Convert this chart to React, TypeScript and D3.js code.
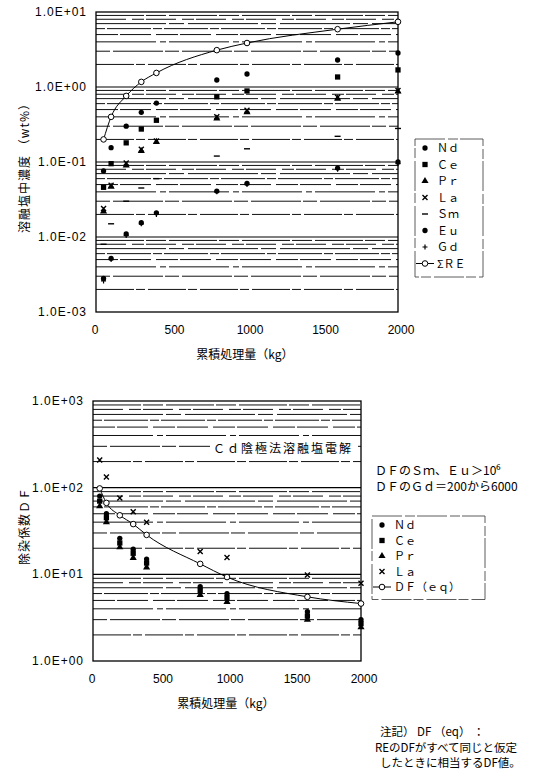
import React, { useEffect, useRef } from 'react'
import * as d3 from 'd3'

// 累積処理量 (kg)
const amounts = [50, 100, 200, 300, 400, 800, 1000, 1600, 2000]
const xTicks = [0, 500, 1000, 1500, 2000]

// 溶融塩中濃度 (wt%)
const ndConc = [0.076, 0.155, 0.30, 0.46, 0.61, 1.24, 1.49, 2.29, 2.84]
const ceConc = [0.046, 0.095, 0.18, 0.275, 0.36, 0.74, 0.885, 1.36, 1.69]
const prConc = [0.022, 0.047, 0.09, 0.14, 0.185, 0.38, 0.46, 0.70, 0.87]
const laConc = [0.024, 0.049, 0.097, 0.148, 0.19, 0.40, 0.49, 0.73, 0.90]
const smConc = [0.008, 0.015, 0.03, 0.045, 0.06, 0.12, 0.15, 0.22, 0.28]
const euConc = [0.0028, 0.0052, 0.011, 0.0155, 0.021, 0.041, 0.052, 0.083, 0.10]
const gdConc = [0.0026, 0.005, 0.0105, 0.015, 0.02, 0.04, 0.05, 0.08, 0.095]
const sumConc = [0.20, 0.40, 0.76, 1.17, 1.54, 3.1, 3.86, 5.9, 7.4]
const concTicks = [1e-3, 1e-2, 1e-1, 1, 10]
const concTickLabels = ['1.0E-03', '1.0E-02', '1.0E-01', '1.0E+00', '1.0E+01']

// 除染係数 DF
const ndDF = [80, 50, 26, 19.5, 15, 7.2, 6.0, 3.7, 3.0]
const ceDF = [70, 45, 23, 17.5, 13.5, 6.5, 5.4, 3.3, 2.7]
const prDF = [61, 40, 20.5, 15.5, 12, 5.8, 4.8, 3.0, 2.45]
const laDF = [209, 133, 76, 52.7, 40, 18.3, 15.6, 9.8, 7.9]
const eqDF = [98, 66.7, 48, 38, 28.5, 13.2, 9.3, 5.5, 4.6]
const dfTicks = [1, 10, 100, 1000]
const dfTickLabels = ['1.0E+00', '1.0E+01', '1.0E+02', '1.0E+03']

const topSeries = [
    { name: 'Ｎｄ', values: ndConc, kind: 'dot' },
    { name: 'Ｃｅ', values: ceConc, kind: 'square' },
    { name: 'Ｐｒ', values: prConc, kind: 'tri' },
    { name: 'Ｌａ', values: laConc, kind: 'x' },
    { name: 'Ｓｍ', values: smConc, kind: 'dash' },
    { name: 'Ｅｕ', values: euConc, kind: 'dot' },
    { name: 'Ｇｄ', values: gdConc, kind: 'plus' },
]
const bottomSeries = [
    { name: 'Ｎｄ', values: ndDF, kind: 'dot' },
    { name: 'Ｃｅ', values: ceDF, kind: 'square' },
    { name: 'Ｐｒ', values: prDF, kind: 'tri' },
    { name: 'Ｌａ', values: laDF, kind: 'x' },
]

const jp = '"Noto Sans CJK JP", "Noto Sans", sans-serif'
const num = '"Liberation Sans Narrow", "Liberation Sans", Arial, sans-serif'
const dashes = ['38,2,9,3', '14,3,50,2', '60,4,6,3', '22,2,31,5', '9,2,44,2', '70,3,15,4', '30,6,12,2', '48,2,20,3']

function marker(g: any, kind: string, x: number, y: number) {
    const sym = (type: any, size: number) =>
        g.append('path').attr('d', d3.symbol().type(type).size(size)()).attr('transform', `translate(${x},${y})`).attr('fill', '#000')
    if (kind === 'dot') sym(d3.symbolCircle, 22)
    else if (kind === 'square') sym(d3.symbolSquare, 28)
    else if (kind === 'tri') sym(d3.symbolTriangle, 22)
    else if (kind === 'x') {
        g.append('path').attr('d', `M${x - 2.5},${y - 2.5}L${x + 2.5},${y + 2.5}M${x + 2.5},${y - 2.5}L${x - 2.5},${y + 2.5}`)
            .attr('stroke', '#000').attr('stroke-width', 1.4)
    } else if (kind === 'dash') {
        g.append('path').attr('d', `M${x - 3},${y}L${x + 3},${y}`).attr('stroke', '#000').attr('stroke-width', 1.4)
    } else if (kind === 'plus') {
        g.append('path').attr('d', `M${x - 2.5},${y}L${x + 2.5},${y}M${x},${y - 2.5}L${x},${y + 2.5}`)
            .attr('stroke', '#000').attr('stroke-width', 1.2)
    } else if (kind === 'open') {
        g.append('circle').attr('cx', x).attr('cy', y).attr('r', 2.8).attr('fill', '#fff').attr('stroke', '#000').attr('stroke-width', 1)
    }
}

function drawPanel(svg: any, o: any) {
    const x = d3.scaleLinear().domain([0, 2000]).range([o.left, o.right])
    const y = d3.scaleLog().domain(o.domain).range([o.bottom, o.top])
    const g = svg.append('g')

    // 補助目盛線
    const lo = Math.log10(o.domain[0]), hi = Math.log10(o.domain[1])
    let n = 0
    for (let d = lo; d < hi; d++) {
        for (let k = 2; k <= 9; k++) {
            g.append('line')
                .attr('x1', o.left).attr('x2', o.right)
                .attr('y1', y(k * Math.pow(10, d))).attr('y2', y(k * Math.pow(10, d)))
                .attr('stroke', '#111').attr('stroke-width', 1)
                .attr('stroke-dasharray', dashes[n++ % dashes.length])
        }
        if (d > lo) {
            g.append('line').attr('x1', o.left).attr('x2', o.right)
                .attr('y1', y(Math.pow(10, d))).attr('y2', y(Math.pow(10, d)))
                .attr('stroke', '#000').attr('stroke-width', 1.2)
        }
    }
    g.append('rect').attr('x', o.left).attr('y', o.top).attr('width', o.right - o.left).attr('height', o.bottom - o.top)
        .attr('fill', 'none').attr('stroke', '#000').attr('stroke-width', 1.3)

    // 軸ラベル
    o.yTicks.forEach((t: number, i: number) => {
        g.append('text').attr('x', o.left - 9).attr('y', y(t) + 4).attr('text-anchor', 'end')
            .attr('font-family', num).attr('font-size', 12).attr('letter-spacing', 1).text(o.yLabels[i])
    })
    xTicks.forEach((t) => {
        g.append('text').attr('x', x(t) + (t === 0 ? -1 : 3)).attr('y', o.bottom + 22).attr('text-anchor', 'middle')
            .attr('font-family', num).attr('font-size', 12).text(t)
    })
    g.append('text').attr('x', o.xTitleX).attr('y', o.bottom + 47).attr('text-anchor', 'middle')
        .attr('font-family', jp).attr('font-size', 12).text('累積処理量（kg）')
    g.append('text').attr('transform', `translate(29,${o.yTitleY}) rotate(-90)`).attr('text-anchor', 'middle')
        .attr('font-family', jp).attr('font-size', 12).attr('letter-spacing', 1).text(o.yTitle)

    // 曲線
    const line = d3.line<number>()
        .x((d, i) => x(amounts[i]))
        .y((d) => y(d))
        .curve(d3.curveMonotoneX)
    g.append('path').attr('d', line(o.curve)).attr('fill', 'none').attr('stroke', '#000').attr('stroke-width', 1)

    o.series.forEach((s: any) => {
        s.values.forEach((v: number, i: number) => marker(g, s.kind, x(amounts[i]), y(v)))
    })
    o.curve.forEach((v: number, i: number) => marker(g, 'open', x(amounts[i]), y(v)))

    // 凡例
    const lg = svg.append('g')
    const items = [...o.series.map((s: any) => ({ name: s.name, kind: s.kind })), { name: o.curveName, kind: 'open' }]
    lg.append('rect').attr('x', o.legend.x).attr('y', o.legend.y).attr('width', o.legend.w)
        .attr('height', items.length * o.legend.step + 6)
        .attr('fill', '#fff').attr('stroke', '#333').attr('stroke-width', 0.8).attr('stroke-dasharray', '30,3,10,2')
    items.forEach((it: any, i: number) => {
        const cy = o.legend.y + 9 + i * o.legend.step
        const mx = o.legend.x + 10
        if (it.kind === 'open') {
            lg.append('line').attr('x1', mx - 9).attr('x2', mx + 9).attr('y1', cy).attr('y2', cy).attr('stroke', '#000')
        }
        marker(lg, it.kind, mx, cy)
        lg.append('text').attr('x', mx + 12).attr('y', cy + 4).attr('font-family', jp).attr('font-size', 11).text(it.name)
    })
}

function App() {
    const svgRef = useRef<SVGSVGElement>(null)

    useEffect(() => {
        const svg = d3.select(svgRef.current)
        svg.selectAll('*').remove()
        svg.append('rect').attr('width', 533).attr('height', 771).attr('fill', '#fff')

        drawPanel(svg, {
            left: 96, right: 398, top: 12, bottom: 312,
            domain: [1e-3, 10], yTicks: concTicks, yLabels: concTickLabels,
            series: topSeries, curve: sumConc, curveName: 'ΣＲＥ',
            yTitle: '溶融塩中濃度 （wt%）', yTitleY: 165, xTitleX: 245,
            legend: { x: 415, y: 139, w: 68, step: 16.5 },
        })

        drawPanel(svg, {
            left: 93, right: 361, top: 401, bottom: 661,
            domain: [1, 1000], yTicks: dfTicks, yLabels: dfTickLabels,
            series: bottomSeries, curve: eqDF, curveName: 'ＤＦ（ｅｑ）',
            yTitle: '除染係数ＤＦ', yTitleY: 526, xTitleX: 226,
            legend: { x: 372, y: 516, w: 113, step: 15.5 },
        })

        // 注記
        svg.append('rect').attr('x', 210).attr('y', 440).attr('width', 148).attr('height', 16).attr('fill', '#fff')
        svg.append('text').attr('x', 213).attr('y', 453).attr('font-family', jp).attr('font-size', 12)
            .attr('letter-spacing', 2).text('Ｃｄ陰極法溶融塩電解')
        svg.append('text').attr('x', 375).attr('y', 475).attr('font-family', jp).attr('font-size', 12).text('ＤＦのＳｍ、Ｅｕ＞10⁶')
        svg.append('text').attr('x', 375).attr('y', 491).attr('font-family', jp).attr('font-size', 12).text('ＤＦのＧｄ＝200から6000')

        const notes = ['注記） DF （eq） ：', 'REのDFがすべて同じと仮定', 'したときに相当するDF値。']
        notes.forEach((t, i) => {
            svg.append('text').attr('x', i === 1 ? 375 : 380).attr('y', 736 + i * 15.5)
                .attr('font-family', jp).attr('font-size', 11.5).text(t)
        })
    }, [])

    return (
        <svg ref={svgRef} width={533} height={771} style={{ position: 'absolute', left: 0, top: 0 }}></svg>
    )
}

export default App
